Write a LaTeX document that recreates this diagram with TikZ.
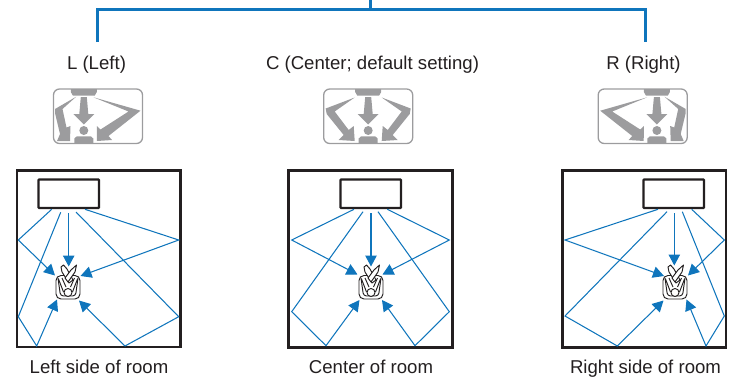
\documentclass[tikz,border=0pt]{standalone}
\usepackage{fontspec}
\setmainfont{Liberation Sans}
\usetikzlibrary{arrows.meta}
\definecolor{bl}{HTML}{0F75BC}
\definecolor{ic}{HTML}{9C9C9E}
\definecolor{rm}{HTML}{231F20}
\tikzset{
  ray/.style={draw=bl,line width=1.05pt,line join=miter},
  rayhead/.style={ray,-{Triangle[length=11pt,width=11.5pt]}},
  lbl/.style={font=\fontsize{18.6}{22}\selectfont,text=rm,inner sep=0pt,anchor=base},
  trunk/.style={draw=bl,line width=2.3pt},
  room/.style={draw=rm,line width=2.4pt},
  tvset/.style={draw=rm,line width=2.2pt,rounded corners=0.6pt},
  seat/.style={draw=rm,line width=0.95pt,fill=white,line join=round},
  iconframe/.style={draw=ic,line width=1.3pt,rounded corners=6pt},
  iconfill/.style={fill=ic,draw=none}
}
\newcommand{\iconbase}{
    \draw[iconframe] (0,0) rectangle (89,54.5);
}
\newcommand{\iconpart}[1]{
    \fill[iconfill] (#1-13,0) -- (#1-13,3) -- (#1-11,6.5) -- (#1+11,6.5) -- (#1+13,3) -- (#1+13,0) -- cycle;
    \fill[iconfill] (#1-3,8) -- (#1+3,8) -- (#1+4.5,25) -- (#1+10.5,25) -- (#1,35.5) -- (#1-10.5,25) -- (#1-4.5,25) -- cycle;
    \fill[iconfill] (#1,41.5) circle (4.5);
    \fill[iconfill] (#1-9.5,54.5) -- (#1-9.5,49.5) -- (#1-7,47.3) -- (#1+7,47.3) -- (#1+9.5,49.5) -- (#1+9.5,54.5) -- cycle;
}
% left-room icon; mirrored with xscale=-1 for the right-room icon
\newcommand{\sideicon}{
    \iconbase
    \iconpart{30.3}
    \fill[iconfill] (22.7,7.7) -- (1.5,20) -- (1.5,24) -- (6.5,45) -- (3.5,52) -- (16.5,52) -- (17,37) -- (13,38.5) -- (9,20) -- cycle;
    \fill[iconfill] (40,8.3) -- (87,21.7) -- (55,47) -- (58.5,51) -- (43.5,52) -- (43.3,37) -- (47,40.5) -- (75,22.5) -- cycle;
}
\newcommand{\centericon}{
    \iconbase
    \iconpart{44.5}
    \fill[iconfill] (31,8.5) -- (2,19.5) -- (3,25) -- (20,46) -- (15,51) -- (31,52) -- (30,37) -- (25,41) -- (11,22.5) -- cycle;
    \fill[iconfill] (58,8.5) -- (87,19.5) -- (86,25) -- (69,46) -- (74,51) -- (58,52) -- (59,37) -- (64,41) -- (78,22.5) -- cycle;
}
% listener in a seat: #1 = centre x, top y 265
\newcommand{\listener}[1]{
  \begin{scope}[shift={(#1,265)}]
    \draw[seat,rounded corners=5pt] (-12,10.5) rectangle (12,34);
    \draw[seat,rounded corners=3pt,fill=none] (-10,13) -- (-7.5,31) -- (7.5,31) -- (10,13);
    \draw[seat] (-7,2) -- (-4.5,0) -- (-1,4) -- (5,15) -- (1,18) -- (-6,7) -- cycle;
    \draw[seat] (8.5,0) -- (7,7) -- (0,17) -- (-3,13) -- (3,5) -- cycle;
    \draw[seat,fill=none] (-9.5,14) -- (-4.5,27) (9.5,14) -- (4.5,27);
    \draw[seat,fill=none] (-6,13) -- (-2,22) (6.5,13) -- (2.5,22);
    \draw[seat] (0,27.5) circle (4);
  \end{scope}}
\begin{document}
\begin{tikzpicture}[x=1pt,y=-1pt]
\useasboundingbox (0,0) rectangle (731,378);
% top bus
\coordinate (bt) at (370.5,0);
\coordinate (bm) at (370.5,9.5);
\coordinate (bl0) at (97.5,9.5);
\coordinate (bl1) at (97.5,42);
\coordinate (br0) at (645.5,9.5);
\coordinate (br1) at (645.5,42);
\draw[trunk] (bt) -- (bm);
\draw[trunk] (bl1) -- (bl0) -- (br0) -- (br1);
% labels
\node[lbl] (lL) at (96.5,69) {L (Left)};
\node[lbl] (lC) at (372.5,69) {C (Center; default setting)};
\node[lbl] (lR) at (643.5,69) {R (Right)};
\node[lbl] (cL) at (99,373) {Left side of room};
\node[lbl] (cC) at (371,373) {Center of room};
\node[lbl] (cR) at (645.5,373) {Right side of room};
% icons
\begin{scope}[shift={(53.5,89)}]\sideicon\end{scope}
\begin{scope}[shift={(323.7,89)}]\centericon\end{scope}
\begin{scope}[shift={(687.2,89)},xscale=-1]\sideicon\end{scope}
% rooms
\draw[room] (17,170.5) rectangle (180.5,347);
\draw[tvset] (38.5,179.5) rectangle (99,208);
\draw[room] (288.5,170.5) rectangle (452.5,347.5);
\draw[tvset] (340.5,179.5) rectangle (401,208);
\draw[room] (562.5,170.5) rectangle (726,347.5);
\draw[tvset] (643.5,179.5) rectangle (704,208);
% left rays
\draw[rayhead] (51.7,209.3) -- (18.3,240) -- (55,275.5);
\draw[rayhead] (60.7,212.3) -- (18.3,316.7) -- (36.7,346) -- (57,299.5);
\draw[rayhead] (68.7,213.3) -- (68.7,266.5);
\draw[rayhead] (76,212) -- (178.7,316.7) -- (125,346) -- (79,300.5);
\draw[rayhead] (85,209.3) -- (178.7,240) -- (80.5,276);
% centre rays
\draw[rayhead] (354,209.3) -- (291.7,240) -- (357.5,274.5);
\draw[rayhead] (363,211.7) -- (291.7,311.7) -- (326,345.7) -- (359.5,300);
\draw[rayhead] (371,213.3) -- (371,266.5);
\draw[rayhead] (378,211.7) -- (449.3,311.7) -- (415,345.7) -- (382,300);
\draw[rayhead] (387.3,209.3) -- (449.3,240) -- (382.5,274.5);
% right rays
\draw[rayhead] (658,209.3) -- (565,240) -- (664,276);
\draw[rayhead] (667,211.7) -- (565,316) -- (617.3,346) -- (663.5,300.5);
\draw[rayhead] (674.3,213.3) -- (674.3,265.5);
\draw[rayhead] (682.3,211.7) -- (724.3,316) -- (706,346) -- (686.5,299.5);
\draw[rayhead] (691.7,209.3) -- (724.3,240) -- (688,275.5);
% listeners
\listener{68}
\listener{371}
\listener{675}
\end{tikzpicture}
\end{document}
